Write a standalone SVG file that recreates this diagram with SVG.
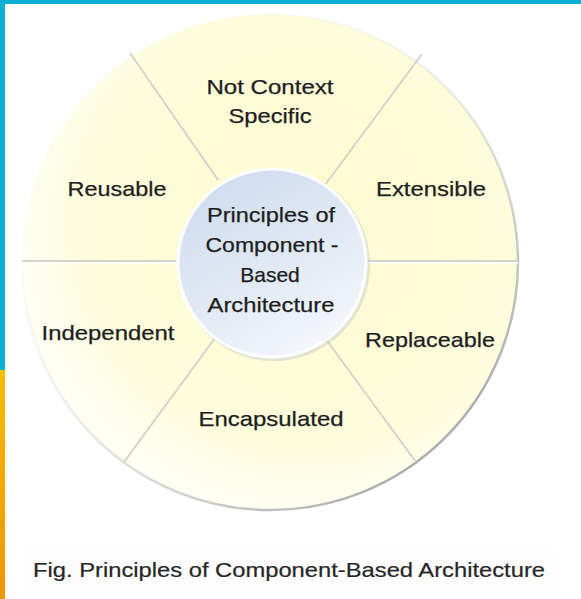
<svg xmlns="http://www.w3.org/2000/svg" width="581" height="599" viewBox="0 0 581 599">
  <defs>
    <radialGradient id="outerFill" cx="0.58" cy="0.42" r="0.62">
      <stop offset="0" stop-color="#fcfbd0"/>
      <stop offset="0.72" stop-color="#fdfcdc"/>
      <stop offset="1" stop-color="#fffff8"/>
    </radialGradient>
    <linearGradient id="outerStroke" x1="0.15" y1="0.1" x2="0.85" y2="0.9">
      <stop offset="0" stop-color="#ffffff" stop-opacity="0"/>
      <stop offset="0.45" stop-color="#dcdcd4" stop-opacity="0.5"/>
      <stop offset="1" stop-color="#a8a8a8"/>
    </linearGradient>
    <linearGradient id="innerFill" x1="0.2" y1="0" x2="0.8" y2="1">
      <stop offset="0" stop-color="#cfdcef"/>
      <stop offset="0.55" stop-color="#e2eaf5"/>
      <stop offset="1" stop-color="#f7f9fc"/>
    </linearGradient>
    <linearGradient id="orange" x1="0" y1="0" x2="0" y2="1">
      <stop offset="0" stop-color="#f6bc00"/>
      <stop offset="1" stop-color="#ee9600"/>
    </linearGradient>
  </defs>
  <style>
    .lbl { font-family: "Liberation Sans", Arial, sans-serif; font-size: 21px; fill: #1e1e1e; stroke: #1e1e1e; stroke-width: 0.25; text-anchor: middle; }
    .cap { font-family: "Liberation Sans", Arial, sans-serif; font-size: 21px; fill: #262626; stroke: #262626; stroke-width: 0.2; }
    .div { stroke: #d4d4cb; stroke-width: 2; fill: none; }
    .hl { stroke: #ffffff; stroke-width: 1.5; fill: none; }
  </style>

  <rect x="0" y="0" width="581" height="599" fill="#ffffff"/>
  <rect x="0" y="0" width="581" height="4" fill="#0bb0d2"/>
  <rect x="0" y="0" width="5" height="370" fill="#0bb0d2"/>
  <rect x="0" y="370" width="5" height="229" fill="url(#orange)"/>
  <rect x="24" y="548" width="532" height="44" fill="#fdfdfd"/>

  <g id="wheel">
    <circle cx="270" cy="262" r="248" fill="url(#outerFill)" stroke="url(#outerStroke)" stroke-width="2.5"/>
  </g>

  <g id="connectors">
    <line class="div" x1="22" y1="261" x2="180" y2="261"/>
    <line class="hl" x1="22" y1="263" x2="180" y2="263"/>
    <line class="div" x1="362" y1="261" x2="518" y2="261"/>
    <line class="hl" x1="362" y1="263" x2="518" y2="263"/>
    <line class="div" x1="130" y1="53" x2="218" y2="180"/>
    <line class="div" x1="422" y1="54" x2="325" y2="185"/>
    <line class="div" x1="416" y1="462" x2="325" y2="338"/>
    <line class="div" x1="124" y1="462" x2="215" y2="338"/>
  </g>

  <g id="center">
    <circle cx="274" cy="265" r="96" fill="#cccccc" opacity="0.5"/>
    <circle cx="272" cy="263" r="94" fill="url(#innerFill)" stroke="#ffffff" stroke-width="3"/>
    <text class="lbl" x="271" y="222" textLength="128" lengthAdjust="spacingAndGlyphs">Principles of</text>
    <text class="lbl" x="272" y="252" textLength="133" lengthAdjust="spacingAndGlyphs">Component -</text>
    <text class="lbl" x="270" y="282">Based</text>
    <text class="lbl" x="271" y="312" textLength="127" lengthAdjust="spacingAndGlyphs">Architecture</text>
  </g>

  <g id="not-context-specific">
    <text class="lbl" x="270" y="94" textLength="127" lengthAdjust="spacingAndGlyphs">Not Context</text>
    <text class="lbl" x="270" y="123" textLength="83" lengthAdjust="spacingAndGlyphs">Specific</text>
  </g>
  <g id="reusable">
    <text class="lbl" x="117" y="196" textLength="99" lengthAdjust="spacingAndGlyphs">Reusable</text>
  </g>
  <g id="extensible">
    <text class="lbl" x="431" y="196" textLength="110" lengthAdjust="spacingAndGlyphs">Extensible</text>
  </g>
  <g id="independent">
    <text class="lbl" x="108" y="340" textLength="133" lengthAdjust="spacingAndGlyphs">Independent</text>
  </g>
  <g id="replaceable">
    <text class="lbl" x="430" y="347" textLength="130" lengthAdjust="spacingAndGlyphs">Replaceable</text>
  </g>
  <g id="encapsulated">
    <text class="lbl" x="271" y="426" textLength="145" lengthAdjust="spacingAndGlyphs">Encapsulated</text>
  </g>

  <g id="caption">
    <text class="cap" x="33" y="577" textLength="512" lengthAdjust="spacingAndGlyphs">Fig. Principles of Component-Based Architecture</text>
  </g>
</svg>
